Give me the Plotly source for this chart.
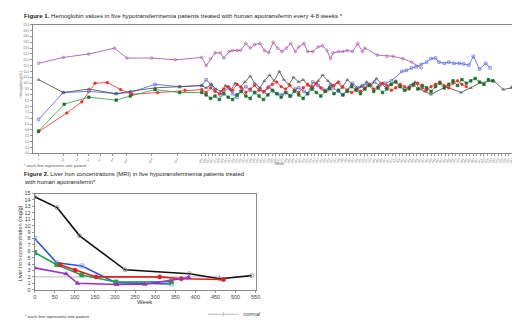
import plotly.graph_objects as go

# ---------------- Figure 1 data: hemoglobin (g/dL) by week ----------------
hb_purple_weeks = [0, 28, 57, 86, 100, 128, 155, 185, 190, 195, 200, 206, 210, 216, 220, 225, 229,
                   235, 240, 245, 251, 256, 261, 266, 271, 276, 281, 286, 291, 295, 301, 305, 311, 317,
                   322, 327, 331, 334, 340, 345, 350, 356, 362, 367, 370, 384, 395, 402, 413, 423, 434]
hb_purple = [11.7, 12.2, 12.5, 13.0, 12.15, 12.15, 12.0, 12.2, 11.5, 12.1, 12.6, 12.6, 12.15, 12.7, 12.8, 12.8, 12.8,
             13.4, 13.0, 13.3, 13.4, 12.8, 12.6, 13.5, 13.0, 12.7, 13.0, 13.4, 12.7, 13.1, 13.4, 12.7, 12.7, 13.1,
             13.2, 12.8, 12.1, 12.6, 12.7, 12.7, 12.8, 12.7, 13.4, 12.7, 13.0, 12.4, 12.3, 12.3, 12.1, 11.8, 11.3]

hb_blue_weeks = [0, 28, 57, 88, 104, 132, 160, 185, 190, 195, 200, 206, 210, 216, 220, 225, 229,
                 235, 240, 245, 251, 256, 261, 266, 271, 276, 281, 286, 291, 295, 301, 305, 311, 317,
                 322, 327, 331, 334, 340, 345, 350, 356, 362, 367, 373, 381, 387, 393, 400, 412, 417,
                 423, 428, 434, 440, 445, 450, 454, 460, 465, 471, 477, 482, 488, 493, 500, 507, 512]
hb_blue = [6.9, 9.2, 9.3, 9.1, 9.2, 9.9, 9.7, 9.8, 10.3, 9.9, 9.4, 9.0, 9.3, 9.6, 9.1, 8.8, 9.3,
           9.7, 9.4, 9.2, 9.5, 9.2, 9.7, 9.3, 9.1, 9.0, 9.2, 8.9, 9.5, 9.6, 9.3, 9.1, 10.1, 9.8,
           9.5, 9.4, 9.9, 9.6, 9.3, 9.0, 9.4, 10.0, 9.6, 9.8, 9.9, 10.1, 9.8, 10.0, 10.2, 11.0, 11.1,
           11.3, 11.4, 11.6, 11.8, 12.1, 12.15, 11.8, 11.7, 11.8, 11.7, 11.7, 11.65, 11.55, 12.3, 11.2, 11.7, 11.3]

hb_black_weeks = [0, 28, 57, 88, 104, 132, 160, 185, 190, 196, 201, 207, 212, 218, 223, 229, 234,
                  240, 245, 251, 256, 262, 267, 273, 278, 284, 289, 295, 300, 306, 311, 317, 322, 328,
                  333, 339, 344, 350, 355, 361, 366, 372, 377, 383, 388, 394, 399, 405, 410, 416, 421,
                  427, 432, 438, 445, 462, 479, 490, 501, 516, 527, 536, 540]
hb_black = [10.3, 9.2, 9.5, 9.1, 9.3, 9.6, 9.7, 9.8, 9.6, 9.9, 9.5, 9.3, 9.8, 9.4, 10.0, 9.7, 10.1,
            10.6, 10.0, 9.6, 10.2, 10.7, 10.2, 11.0, 10.3, 9.9, 10.5, 10.1, 10.3, 9.8, 9.6, 10.2, 10.7, 10.2,
            9.8, 10.05, 9.6, 10.3, 9.9, 9.5, 9.7, 10.1, 9.8, 10.4, 10.0, 9.6, 9.9, 10.2, 9.7, 9.4, 9.8,
            10.1, 9.5, 9.3, 9.04, 9.7, 9.2, 9.6, 10.05, 10.2, 9.46, 9.6, 10.5]

hb_red_weeks = [0, 32, 49, 64, 78, 93, 106, 135, 166, 185,
                190, 195, 200, 205, 210, 215, 220, 225, 230, 235, 240, 245, 250, 255, 260, 265, 270, 275,
                280, 285, 290, 295, 300, 305, 310, 315, 320, 325, 330, 335, 340, 345, 350, 355, 360, 365,
                370, 375, 380, 385, 390, 395, 400, 405, 410, 415, 420, 425, 430, 435, 440, 445, 450, 455,
                460, 465, 470, 475, 480, 485]
hb_red = [5.85, 7.45, 8.4, 10.0, 10.05, 9.45, 9.05, 9.2, 9.4, 9.45,
          9.2, 9.6, 9.3, 9.1, 9.5, 9.7, 9.4, 9.9, 9.6, 9.2, 9.5, 9.8, 9.4, 9.3, 9.6, 9.9, 10.1, 9.7,
          9.5, 9.8, 9.4, 9.2, 9.6, 9.9, 9.7, 10.0, 9.6, 9.3, 9.5, 9.8, 10.1, 9.7, 9.4, 9.2, 9.5, 9.3,
          9.6, 9.9, 9.5, 9.7, 10.0, 9.8, 9.4, 9.6, 9.9, 9.7, 9.5, 9.8, 10.0, 9.6, 9.4, 9.7, 9.9, 10.1,
          9.8, 9.6, 10.0, 10.2, 9.9, 9.7]

hb_green_weeks = [0, 29, 57, 88, 104, 132, 160, 185,
                  190, 195, 200, 205, 210, 215, 220, 225, 230, 235, 240, 245, 250, 255, 260, 265, 270, 275,
                  280, 285, 290, 295, 300, 305, 310, 315, 320, 325, 330, 335, 340, 345, 350, 355, 360, 365,
                  370, 375, 380, 385, 390, 395, 400, 405, 410, 415, 420, 425, 430, 435, 440, 445, 450, 455,
                  460, 465, 470, 475, 480, 485, 490, 495, 500, 505, 510, 515]
hb_green = [5.9, 8.2, 8.8, 8.55, 8.9, 9.45, 9.2, 9.2,
            9.0, 8.7, 8.9, 8.6, 9.1, 8.8, 8.6, 9.0, 9.3, 8.9, 8.7, 9.2, 8.9, 8.6, 9.0, 9.4, 9.1, 8.8,
            9.2, 8.9, 9.3, 9.0, 8.7, 9.1, 9.5, 9.2, 8.9, 9.3, 9.6, 9.1, 9.4, 9.0, 9.3, 9.7, 9.4, 9.1,
            9.5, 9.8, 9.3, 9.6, 9.2, 9.5, 9.9, 10.1, 9.7, 9.4, 9.6, 9.9, 9.5, 9.8, 9.6, 9.3, 9.7, 10.0,
            9.6, 9.9, 10.2, 9.8, 10.3, 10.0, 10.2, 10.4, 10.1, 9.9, 10.3, 10.2]

hb_tick_weeks = [0, 28, 44, 57, 70, 84, 100, 128, 157, 185,
                 189, 193, 197, 201, 205, 209, 213, 217, 221, 225, 229, 233, 237, 241, 245, 249, 253, 257,
                 261, 265, 269, 273, 277, 281, 285, 289, 293, 297, 301, 305, 309, 313, 317, 321, 325, 329,
                 333, 337, 341, 345, 349, 353, 357, 361, 365, 369, 373, 377, 381, 385, 389, 393, 397, 401,
                 405, 409, 413, 417, 421, 425, 429, 433, 437, 441, 445, 449, 453, 457, 461, 465, 469, 473,
                 477, 481, 485, 489, 493, 497, 501, 505, 509, 513, 517, 521, 525, 529, 533, 537, 540]

# ---------------- Figure 2 data: liver iron (mg/g) by week ----------------
li_black_weeks = [0, 56, 112, 225, 385, 461, 540]
li_black = [14.5, 12.8, 8.4, 3.1, 2.5, 1.7, 2.2]
li_blue_weeks = [0, 55, 118, 202, 340]
li_blue = [8.0, 4.2, 3.7, 1.1, 0.9]
li_green_weeks = [0, 55, 117, 202, 340]
li_green = [5.8, 3.9, 2.3, 1.2, 1.25]
li_red_weeks = [63, 101, 153, 311, 365, 470]
li_red = [3.9, 3.05, 2.0, 2.0, 1.7, 1.6]
li_purple_weeks = [0, 78, 107, 204, 274, 383]
li_purple = [3.4, 2.5, 1.0, 0.8, 0.85, 1.9]
normal_weeks = [0, 460]
normal_level = [2.0, 2.0]

W, H = 520, 322
FONT = "Liberation Sans, Arial, sans-serif"

fig = go.Figure()

def s1(x, y, color, symbol, mcolor=None, filled=True):
    fig.add_trace(go.Scatter(
        x=x, y=y, mode="lines+markers", xaxis="x", yaxis="y", showlegend=False,
        line=dict(color=color, width=0.8),
        marker=dict(size=2.6, symbol=symbol if filled else symbol + "-open",
                    color=mcolor or color, line=dict(width=0.6, color=mcolor or color))))

s1(hb_purple_weeks, hb_purple, "#a24aa6", "circle", filled=False)
s1(hb_blue_weeks, hb_blue, "#4a5ce0", "square", filled=False)
s1(hb_black_weeks, hb_black, "#454545", "triangle-up", filled=False)
s1(hb_red_weeks, hb_red, "#ff2424", "circle")
s1(hb_green_weeks, hb_green, "#24a040", "square", mcolor="#1d6e2c")

def s2(x, y, color, symbol, mcolor=None, filled=True, name=None, legend=False, width=1.6, size=4):
    fig.add_trace(go.Scatter(
        x=x, y=y, mode="lines+markers", xaxis="x2", yaxis="y2", showlegend=legend, name=name,
        line=dict(color=color, width=width),
        marker=dict(size=size, symbol=symbol if filled else symbol + "-open",
                    color=mcolor or color, line=dict(width=0.8, color=mcolor or color))))

s2(normal_weeks, normal_level, "#a8a8a8", "line-ns", filled=False, name="normal", legend=True, width=0.8, size=3)
s2(li_black_weeks, li_black, "#111111", "circle", mcolor="#888888", filled=False)
s2(li_blue_weeks, li_blue, "#3050dd", "square", mcolor="#7f9cf0", filled=False)
s2(li_green_weeks, li_green, "#22a050", "square")
s2(li_red_weeks, li_red, "#dd2020", "circle")
s2(li_purple_weeks, li_purple, "#9a30c8", "triangle-up")

ann = []
def txt(x, y, t, size, anchor="left", color="#222222", **kw):
    ann.append(dict(x=x / W, y=1 - y / H, xref="paper", yref="paper", text=t, showarrow=False,
                    xanchor=anchor, yanchor="middle", font=dict(size=size, color=color, family=FONT), **kw))

txt(12, 5, "<b>Figure 1.</b> Hemoglobin values in five hypotransferrinemia patients treated with human apotransferrin every 4-8 weeks *", 6.1)
txt(12, 157, "* each line represents one patient", 4.2, color="#555555")
txt(267, 156, "Week", 3.6, color="#555555")
txt(11, 75, "Hemoglobin (g/dL)", 3.2, anchor="center", color="#555555", textangle=-90)
txt(12, 166, "<b>Figure 2.</b> Liver Iron concentrations (MRI) in five hypotransferrinemia patients treated", 5.9)
txt(12, 174, "with human apotransferrin*", 5.9)
txt(10, 237, "Liver iron concentration (mg/g)", 5.6, anchor="center", color="#333333", textangle=-90)
txt(137, 297, "Week", 6, anchor="center", color="#333333")
txt(13, 311, "* each line represents one patient", 4.3, color="#333333")

fig.update_layout(
    width=W, height=H, margin=dict(l=0, r=0, t=0, b=0),
    paper_bgcolor="white", plot_bgcolor="white",
    font=dict(family=FONT),
    annotations=ann,
    xaxis=dict(domain=[23 / W, 516 / W], range=[-6.7, 544.8], tickvals=hb_tick_weeks,
               ticktext=[str(v) for v in hb_tick_weeks], tickangle=-60,
               tickfont=dict(size=3, color="#666666"), ticks="outside", ticklen=2, tickcolor="#999999",
               showgrid=False, zeroline=False, showline=True, linecolor="#8a8a8a", linewidth=1, mirror=True),
    yaxis=dict(domain=[1 - 145 / H, 1 - 14 / H], range=[4, 15], dtick=0.5, tickformat=".1f",
               tickfont=dict(size=3, color="#666666"), ticks="outside", ticklen=2, tickcolor="#999999",
               showgrid=False, zeroline=False, showline=True, linecolor="#8a8a8a", linewidth=1, mirror=True),
    xaxis2=dict(domain=[25 / W, 249 / W], range=[0, 550], dtick=50, anchor="y2",
                tickfont=dict(size=5.5, color="#444444"), ticks="outside", ticklen=2, tickcolor="#999999",
                showgrid=False, zeroline=False, showline=True, linecolor="#8a8a8a", linewidth=1, mirror=True),
    yaxis2=dict(domain=[1 - 284 / H, 1 - 186 / H], range=[0, 15], dtick=1, anchor="x2",
                tickfont=dict(size=5.5, color="#444444"), ticks="outside", ticklen=2, tickcolor="#999999",
                showgrid=False, zeroline=False, showline=True, linecolor="#8a8a8a", linewidth=1, mirror=True),
    legend=dict(x=196 / W, y=1 - 309 / H, xanchor="left", yanchor="middle", bgcolor="rgba(0,0,0,0)",
                font=dict(size=5.5, color="#444444", family=FONT), itemwidth=30, tracegroupgap=0),
)

fig.write_html("out.html")
